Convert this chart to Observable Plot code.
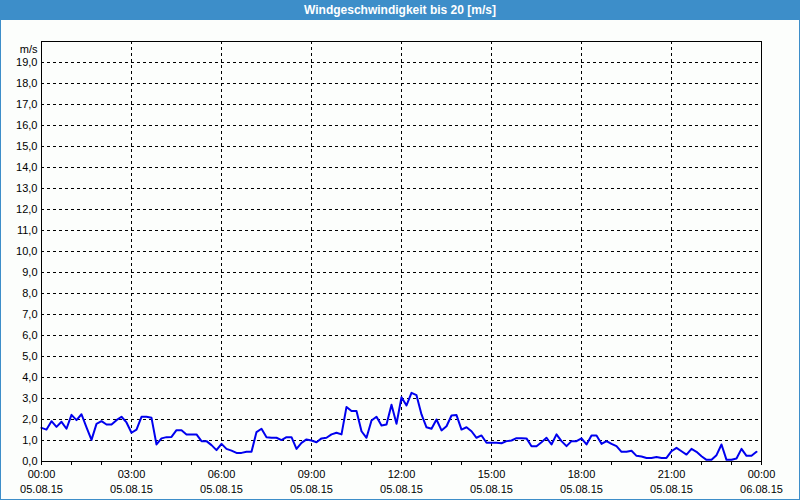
<!DOCTYPE html>
<html>
<head>
<meta charset="utf-8">
<script src="https://cdn.jsdelivr.net/npm/d3@7"></script>
<script src="https://cdn.jsdelivr.net/npm/@observablehq/plot@0.6"></script>
<style>
  html, body { margin: 0; padding: 0; background: #fcfefc; }
  #wrap { width: 800px; height: 500px; box-sizing: border-box; border: 1px solid #3d8ec9; background: #fcfefc; overflow: hidden; }
  #title { height: 19px; background: #3d8ec9; color: #fff; font: bold 12px "Liberation Sans", Arial, sans-serif; text-align: center; line-height: 19px; }
  svg { display: block; }
</style>
</head>
<body>
<div id="wrap">
  <div id="title">Windgeschwindigkeit bis 20 [m/s]</div>
  <div id="chart"></div>
</div>
<script>
// --- data (10-minute readings, 05.08.15 00:00 .. 23:50) ---
const startTime = "2015-08-05T00:00:00Z";
const endTime = "2015-08-06T00:00:00Z";
const stepMinutes = 10;
const windSpeed = [
  1.6,1.52,1.92,1.65,1.89,1.56,2.22,1.97,2.25,1.63,1.03,1.79,1.92,1.76,1.76,1.97,2.13,1.86,1.37,1.52,2.13,2.13,2.08,0.81,1.1,
  1.16,1.17,1.49,1.49,1.29,1.29,1.29,0.97,0.97,0.78,0.54,0.84,0.6,0.52,0.41,0.41,0.46,0.46,1.4,1.56,1.16,1.13,1.13,1.02,
  1.16,1.16,0.6,0.89,1.05,1.0,0.92,1.1,1.13,1.29,1.37,1.29,2.6,2.4,2.4,1.44,1.13,1.95,2.13,1.71,1.76,2.7,1.8,3.06,
  2.67,3.27,3.16,2.24,1.63,1.56,2.0,1.48,1.68,2.19,2.21,1.52,1.63,1.44,1.13,1.24,0.89,0.89,0.89,0.87,0.97,1.0,1.11,1.11,
  1.1,0.73,0.73,0.92,1.13,0.81,1.29,0.97,0.73,0.97,0.97,1.1,0.81,1.24,1.24,0.84,0.97,0.84,0.73,0.46,0.46,0.51,0.27,0.24,
  0.17,0.17,0.21,0.17,0.17,0.49,0.65,0.49,0.33,0.6,0.46,0.25,0.08,0.08,0.3,0.81,0.08,0.08,0.14,0.6,0.27,0.27,0.46
];
const yTicks = [0,1,2,3,4,5,6,7,8,9,10,11,12,13,14,15,16,17,18,19];
const yGrid = [1,2,3,4,5,6,7,8,9,10,11,12,13,14,15,16,17,18,19];
const xLabelHours = [0,3,6,9,12,15,18,21,24];
const xGridHours = [3,6,9,12,15,18,21];
const xTickHours = [0,1,2,3,4,5,6,7,8,9,10,11,12,13,14,15,16,17,18,19,20,21,22,23,24];
const unitLabel = "m/s";

// --- build ---
const t0 = new Date(startTime);
const t1 = new Date(endTime);
const data = windSpeed.map((v, i) => ({time: new Date(+t0 + i * stepMinutes * 60000), value: v}));
const hourDate = h => new Date(+t0 + h * 3600000);
const fmtTime = d3.utcFormat("%H:%M");
const fmtDate = d3.utcFormat("%d.%m.%y");
const fmtY = d => d.toFixed(1).replace(".", ",");

const chart = Plot.plot({
  width: 798,
  height: 479,
  marginLeft: 40,
  marginRight: 38,
  marginTop: 21,
  marginBottom: 38,
  style: {fontFamily: "'Liberation Sans', Arial, sans-serif", fontSize: "11px", background: "#fcfefc", color: "black"},
  x: {type: "utc", domain: [t0, t1]},
  y: {domain: [0, 20]},
  marks: [
    Plot.gridY(yGrid, {stroke: "black", strokeOpacity: 1, strokeDasharray: "3,3"}),
    Plot.gridX(xGridHours.map(hourDate), {stroke: "black", strokeOpacity: 1, strokeDasharray: "3,3"}),
    Plot.axisY(yTicks, {tickSize: 0, tickPadding: 4, tickFormat: fmtY, label: null}),
    Plot.axisX(xTickHours.map(hourDate), {tickSize: 4, tickFormat: () => "", label: null}),
    Plot.axisX(xLabelHours.map(hourDate), {tickSize: 0, tickPadding: 9, tickFormat: fmtTime, label: null}),
    Plot.axisX(xLabelHours.map(hourDate), {tickSize: 0, tickPadding: 24, tickFormat: fmtDate, label: null}),
    Plot.text([unitLabel], {text: d => d, frameAnchor: "top-left", dx: -4, dy: 4, textAnchor: "end"}),
    Plot.line(data, {x: "time", y: "value", stroke: "#0000ee", strokeWidth: 2}),
    Plot.frame({stroke: "black"})
  ]
});
document.getElementById("chart").appendChild(chart);
</script>
</body>
</html>
